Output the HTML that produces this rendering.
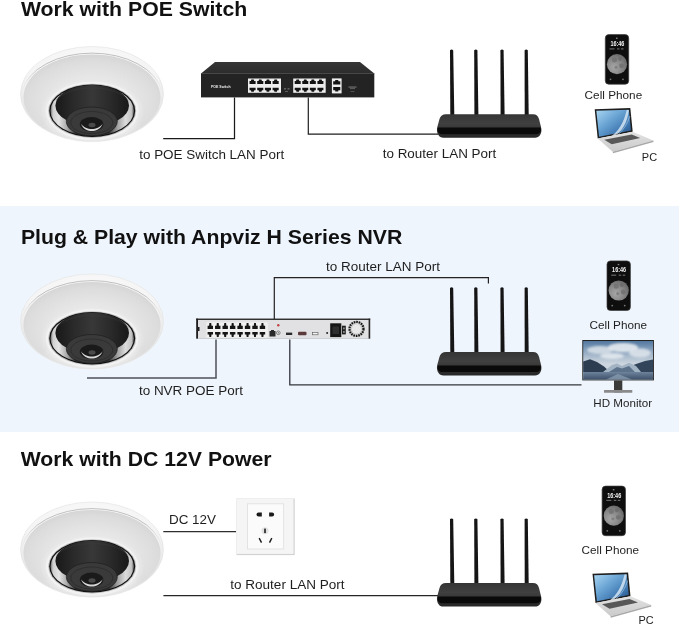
<!DOCTYPE html>
<html><head><meta charset="utf-8">
<style>
html,body{margin:0;padding:0;background:#fff;}
body{width:679px;height:626px;overflow:hidden;position:relative;}
svg{position:absolute;left:0;top:0;will-change:transform;}
text{font-family:"Liberation Sans",sans-serif;}
.t{font-weight:bold;font-size:21px;fill:#111;}
.l{font-size:13.5px;fill:#222;}
.s{font-size:11.5px;fill:#222;}
</style></head><body>
<svg width="679" height="626" viewBox="0 0 679 626">
<defs>
  <filter id="blur1" x="-20%" y="-50%" width="140%" height="200%"><feGaussianBlur stdDeviation="1.2"/></filter>
  <linearGradient id="rimline" x1="0" y1="0" x2="1" y2="0">
    <stop offset="0" stop-color="#a9a9a9" stop-opacity="0"/>
    <stop offset="0.12" stop-color="#a9a9a9" stop-opacity="0.9"/>
    <stop offset="0.88" stop-color="#a9a9a9" stop-opacity="0.9"/>
    <stop offset="1" stop-color="#a9a9a9" stop-opacity="0"/>
  </linearGradient>
  <radialGradient id="lip" cx="0.5" cy="0.3" r="0.75">
    <stop offset="0" stop-color="#fbfbfb"/>
    <stop offset="0.6" stop-color="#f4f4f4"/>
    <stop offset="0.85" stop-color="#e4e4e4"/>
    <stop offset="1" stop-color="#dadada"/>
  </radialGradient>
  <radialGradient id="shell" cx="0.5" cy="0.55" r="0.6">
    <stop offset="0" stop-color="#f0f0f0"/>
    <stop offset="0.5" stop-color="#e6e6e6"/>
    <stop offset="0.8" stop-color="#dcdcdc"/>
    <stop offset="1" stop-color="#d0d0d0"/>
  </radialGradient>
  <radialGradient id="bottomhl" cx="0.5" cy="0.5" r="0.5">
    <stop offset="0" stop-color="#f8f8f8" stop-opacity="0.9"/>
    <stop offset="1" stop-color="#f8f8f8" stop-opacity="0"/>
  </radialGradient>
  <radialGradient id="halo" cx="0.5" cy="0.5" r="0.5">
    <stop offset="0.75" stop-color="#f1f1f1"/>
    <stop offset="1" stop-color="#f1f1f1" stop-opacity="0"/>
  </radialGradient>
  <linearGradient id="chromeL" x1="0" y1="0" x2="0.3" y2="1">
    <stop offset="0" stop-color="#3a3a3a"/>
    <stop offset="0.3" stop-color="#b8b8b8"/>
    <stop offset="0.6" stop-color="#e8e8e8"/>
    <stop offset="1" stop-color="#a8a8a8"/>
  </linearGradient>
  <linearGradient id="chromeR" x1="0" y1="0" x2="-0.3" y2="1">
    <stop offset="0" stop-color="#3a3a3a"/>
    <stop offset="0.3" stop-color="#b0b0b0"/>
    <stop offset="0.6" stop-color="#e2e2e2"/>
    <stop offset="1" stop-color="#a0a0a0"/>
  </linearGradient>
  <linearGradient id="chrome" x1="0" y1="0" x2="1" y2="0">
    <stop offset="0" stop-color="#6a6a6a"/>
    <stop offset="0.03" stop-color="#cfcfcf"/>
    <stop offset="0.1" stop-color="#e4e4e4"/>
    <stop offset="0.2" stop-color="#a8a8a8"/>
    <stop offset="0.3" stop-color="#303030"/>
    <stop offset="0.7" stop-color="#303030"/>
    <stop offset="0.8" stop-color="#a0a0a0"/>
    <stop offset="0.9" stop-color="#dcdcdc"/>
    <stop offset="0.97" stop-color="#c4c4c4"/>
    <stop offset="1" stop-color="#666"/>
  </linearGradient>
  <linearGradient id="wall" x1="0" y1="0" x2="1" y2="0">
    <stop offset="0" stop-color="#181818"/>
    <stop offset="0.25" stop-color="#2a2a2a"/>
    <stop offset="0.5" stop-color="#383838"/>
    <stop offset="0.75" stop-color="#2a2a2a"/>
    <stop offset="1" stop-color="#181818"/>
  </linearGradient>
  <linearGradient id="rtop" x1="0" y1="0" x2="0" y2="1">
    <stop offset="0" stop-color="#353535"/>
    <stop offset="0.4" stop-color="#404040"/>
    <stop offset="1" stop-color="#262626"/>
  </linearGradient>
  <linearGradient id="swtop" x1="0" y1="0" x2="0" y2="1">
    <stop offset="0" stop-color="#363636"/>
    <stop offset="1" stop-color="#2c2c2c"/>
  </linearGradient>
  <linearGradient id="scr" x1="0" y1="0" x2="1" y2="1">
    <stop offset="0" stop-color="#a9d6f2"/>
    <stop offset="0.4" stop-color="#6aa4d4"/>
    <stop offset="0.75" stop-color="#3c74ae"/>
    <stop offset="1" stop-color="#234a7a"/>
  </linearGradient>
  <linearGradient id="lbase" x1="0" y1="0" x2="0" y2="1">
    <stop offset="0" stop-color="#e2e2e2"/>
    <stop offset="1" stop-color="#cacaca"/>
  </linearGradient>
  <linearGradient id="sky" x1="0" y1="0" x2="0" y2="1">
    <stop offset="0" stop-color="#52789f"/>
    <stop offset="0.2" stop-color="#809cba"/>
    <stop offset="0.45" stop-color="#b4c3d2"/>
    <stop offset="0.6" stop-color="#cdd6df"/>
    <stop offset="1" stop-color="#cdd6df"/>
  </linearGradient>
  <linearGradient id="water" x1="0" y1="0" x2="0" y2="1">
    <stop offset="0" stop-color="#6e849c"/>
    <stop offset="1" stop-color="#3e526a"/>
  </linearGradient>
  <radialGradient id="moon" cx="0.35" cy="0.65" r="0.7">
    <stop offset="0" stop-color="#a6a6a6"/>
    <stop offset="0.6" stop-color="#868686"/>
    <stop offset="1" stop-color="#686868"/>
  </radialGradient>
  <g id="cam">
    <ellipse cx="92" cy="94" rx="71.5" ry="47.5" fill="url(#lip)" stroke="#e2e2e2" stroke-width="0.6"/>
    <path d="M22,91 A71,45.5 0 0 1 162,91" stroke="url(#rimline)" stroke-width="0.8" fill="none"/>
    <ellipse cx="92" cy="97.5" rx="68.5" ry="43" fill="url(#shell)"/>
    <ellipse cx="92" cy="128" rx="52" ry="15" fill="url(#bottomhl)"/>
    <ellipse cx="92.2" cy="111.5" rx="52" ry="32" fill="url(#halo)"/>
    <ellipse cx="92.2" cy="111" rx="46.3" ry="29.2" fill="#f2f2f2"/>
    <ellipse cx="92.2" cy="110.8" rx="44" ry="27.1" fill="#bdbdbd"/>
    <ellipse cx="92.2" cy="110.7" rx="43" ry="26.2" fill="#0f0f0f"/>
    <ellipse cx="92.2" cy="110.9" rx="41.7" ry="24.9" fill="url(#chrome)"/>
    <ellipse cx="92.2" cy="105.5" rx="36.8" ry="20.6" fill="url(#wall)"/>
    <path d="M56,100 C67,90 80,88 92.2,88 C104.4,88 117.4,90 128.4,100" stroke="#3c3c3c" stroke-width="0.6" fill="none" opacity="0.7"/>
    <ellipse cx="91.8" cy="121.4" rx="25.5" ry="14.4" fill="#3a3a3a" stroke="#1e1e1e" stroke-width="0.7"/>
    <ellipse cx="91.8" cy="122.5" rx="21" ry="11" fill="none" stroke="#2e2e2e" stroke-width="1"/>
    <ellipse cx="91.6" cy="124.3" rx="11.8" ry="7.2" fill="#1a1a1a"/>
    <path d="M80.8,123.5 C83,129.5 88,131 91.8,131 C95.6,131 100.6,129.5 102.8,123.5 C100,127.5 96,129 91.8,129 C87.6,129 83.6,127.5 80.8,123.5 Z" fill="#d8d8d8"/>
    <ellipse cx="92" cy="125" rx="3.5" ry="2.2" fill="#4a4a4a"/>
  </g>
  <g id="router">
    <path d="M450.00,50.2 Q451.60,48.9 453.20,50.2 L454.30,115 L450.30,115 Z" fill="#151515"/>
    <path d="M474.20,50.2 Q475.80,48.9 477.40,50.2 L478.40,115 L474.40,115 Z" fill="#151515"/>
    <path d="M500.40,50.2 Q502.00,48.9 503.60,50.2 L504.60,115 L500.60,115 Z" fill="#151515"/>
    <path d="M524.60,50.2 Q526.20,48.9 527.80,50.2 L528.70,115 L524.70,115 Z" fill="#151515"/>
    <path d="M446,114.2 L533,114.2 C536.5,114.2 538,116 539,119 L541,127 C542.2,131 541,137.7 535,137.7 L443.5,137.7 C437.5,137.7 436.2,131 437.3,127 L439.5,119 C440.5,116 442.5,114.2 446,114.2 Z" fill="url(#rtop)"/>
    <path d="M438,127.6 L540.5,127.6 C541.8,130.5 540.5,134.3 536,134.3 L442.5,134.3 C438,134.3 436.8,130.5 438,127.6 Z" fill="#0a0a0a"/>
  </g>
  <g id="phone">
    <rect x="0.3" y="0.3" width="23.4" height="49.6" rx="3.5" fill="#0e0e0e" stroke="#3c3c3c" stroke-width="0.7"/>
    <circle cx="12" cy="29.9" r="10.1" fill="url(#moon)"/>
    <circle cx="9.5" cy="25.5" r="2.6" fill="#707070" opacity="0.8"/>
    <circle cx="15" cy="24.5" r="2" fill="#6a6a6a" opacity="0.8"/>
    <circle cx="16.5" cy="31.5" r="2.4" fill="#6e6e6e" opacity="0.8"/>
    <circle cx="11" cy="33" r="1.6" fill="#767676" opacity="0.7"/>
    <text x="5.4" y="11.8" font-size="7" font-weight="bold" fill="#f2f2f2" textLength="14" lengthAdjust="spacingAndGlyphs">16:46</text>
    <rect x="11" y="3.3" width="1.6" height="1.3" fill="#888"/>
    <rect x="4.5" y="14" width="5" height="1.2" fill="#666"/>
    <rect x="12" y="14" width="2.5" height="1.2" fill="#666"/>
    <rect x="16" y="14" width="2.5" height="1.2" fill="#666"/>
    <circle cx="5.5" cy="45" r="0.9" fill="#777"/>
    <circle cx="18" cy="45" r="0.9" fill="#777"/>
  </g>
  <g id="laptop">
    <path d="M0,1.2 L35.6,0 L38,23.8 L3,30.6 Z" fill="#1e1e1e"/>
    <path d="M1.6,2.7 L34.2,1.7 L36.3,22.6 L4.4,28.8 Z" fill="url(#scr)"/>
    <path d="M17,28 C24,22.5 29,15 32,2 L34.2,1.9 C32.5,15 27.5,23 20.5,27.4 Z" fill="#dcebf6" opacity="0.8"/>
    <path d="M23,27 C29,22 33,15 35.2,8" stroke="#bcd6ea" stroke-width="0.7" fill="none" opacity="0.8"/>
    <path d="M3,30.6 L38,23.8 L58.6,32.6 L18,43.8 Z" fill="url(#lbase)"/>
    <path d="M18,43.8 L58.6,32.6 L58.8,34 L18.3,45.2 Z" fill="#a8a8a8"/>
    <path d="M9.5,31.8 L37,26.4 L45.5,30 L17,36.2 Z" fill="#585858"/>
  </g>
</defs>

<!-- blue band -->
<rect x="0" y="206" width="679" height="226" fill="#eff5fd"/>

<!-- ===== Section 1 ===== -->
<use href="#cam"/>
<!-- switch -->
<path d="M215,62 L360,62 L374.3,73.4 L201,73.4 Z" fill="url(#swtop)"/>
<rect x="201" y="73.4" width="173.3" height="24" fill="#232323"/>
<rect x="201" y="73.2" width="173.3" height="0.8" fill="#484848"/>
<rect x="282.5" y="78.5" width="9.5" height="14.4" fill="#252525"/>
<rect x="284" y="88.5" width="2" height="0.8" fill="#999"/>
<rect x="287.5" y="88.5" width="2" height="0.8" fill="#999"/>
<rect x="285" y="91" width="3" height="0.7" fill="#777"/>
<rect x="248" y="78.5" width="33" height="14.3" fill="#eeeeee"/>
<path d="M249.5,81 L250.85,81 L251.35,79.6 L253.75,79.6 L254.25,81 L255.6,81 L255.6,84 L249.5,84 Z" fill="#141414"/>
<path d="M249.5,87.7 L255.6,87.7 L255.6,90.2 L254.25,90.2 L253.75,91.7 L251.35,91.7 L250.85,90.2 L249.5,90.2 Z" fill="#141414"/>
<path d="M257.2,81 L258.55,81 L259.05,79.6 L261.45,79.6 L261.95,81 L263.3,81 L263.3,84 L257.2,84 Z" fill="#141414"/>
<path d="M257.2,87.7 L263.3,87.7 L263.3,90.2 L261.95,90.2 L261.45,91.7 L259.05,91.7 L258.55,90.2 L257.2,90.2 Z" fill="#141414"/>
<path d="M264.9,81 L266.25,81 L266.75,79.6 L269.15,79.6 L269.65,81 L271,81 L271,84 L264.9,84 Z" fill="#141414"/>
<path d="M264.9,87.7 L271,87.7 L271,90.2 L269.65,90.2 L269.15,91.7 L266.75,91.7 L266.25,90.2 L264.9,90.2 Z" fill="#141414"/>
<path d="M272.6,81 L273.95,81 L274.45,79.6 L276.85,79.6 L277.35,81 L278.7,81 L278.7,84 L272.6,84 Z" fill="#141414"/>
<path d="M272.6,87.7 L278.7,87.7 L278.7,90.2 L277.35,90.2 L276.85,91.7 L274.45,91.7 L273.95,90.2 L272.6,90.2 Z" fill="#141414"/>
<rect x="293.2" y="78.5" width="32.5" height="14.3" fill="#eeeeee"/>
<path d="M294.7,81 L295.99,81 L296.49,79.6 L298.89,79.6 L299.39,81 L300.68,81 L300.68,84 L294.7,84 Z" fill="#141414"/>
<path d="M294.7,87.7 L300.68,87.7 L300.68,90.2 L299.39,90.2 L298.89,91.7 L296.49,91.7 L295.99,90.2 L294.7,90.2 Z" fill="#141414"/>
<path d="M302.27,81 L303.56,81 L304.06,79.6 L306.46,79.6 L306.96,81 L308.25,81 L308.25,84 L302.27,84 Z" fill="#141414"/>
<path d="M302.27,87.7 L308.25,87.7 L308.25,90.2 L306.96,90.2 L306.46,91.7 L304.06,91.7 L303.56,90.2 L302.27,90.2 Z" fill="#141414"/>
<path d="M309.85,81 L311.14,81 L311.64,79.6 L314.04,79.6 L314.54,81 L315.82,81 L315.82,84 L309.85,84 Z" fill="#141414"/>
<path d="M309.85,87.7 L315.82,87.7 L315.82,90.2 L314.54,90.2 L314.04,91.7 L311.64,91.7 L311.14,90.2 L309.85,90.2 Z" fill="#141414"/>
<path d="M317.43,81 L318.71,81 L319.21,79.6 L321.61,79.6 L322.11,81 L323.4,81 L323.4,84 L317.43,84 Z" fill="#141414"/>
<path d="M317.43,87.7 L323.4,87.7 L323.4,90.2 L322.11,90.2 L321.61,91.7 L319.21,91.7 L318.71,90.2 L317.43,90.2 Z" fill="#141414"/>
<rect x="331.9" y="78.4" width="9.7" height="15" fill="#eeeeee"/>
<path d="M333.2,81.2 h2 v-1.2 h3.1 v1.2 h2 v3.2 h-7.1 z" fill="#141414"/>
<path d="M333.2,87 h7.1 v3.2 h-2 v1.2 h-3.1 v-1.2 h-2 z" fill="#141414"/>
<rect x="348.5" y="86.6" width="8" height="0.9" fill="#888"/>
<rect x="350" y="88.2" width="5" height="0.9" fill="#666"/>
<rect x="350.5" y="91.3" width="4" height="0.7" fill="#666"/>
<text x="211" y="87.6" font-size="4.4" font-weight="bold" fill="#ececec" textLength="19.6" lengthAdjust="spacingAndGlyphs">POE Switch</text>
<!-- lines -->
<path d="M163.2,138.5 H234.5 V97.4" stroke="#1a1a1a" stroke-width="1.25" fill="none"/>
<path d="M308.3,97.4 V134.1 H438" stroke="#1e1e1e" stroke-width="1.2" fill="none"/>
<use href="#router"/>
<use href="#phone" x="605" y="34.3"/>
<use href="#laptop" x="594.7" y="108"/>

<!-- ===== Section 2 ===== -->
<use href="#cam" y="227.5"/>
<!-- NVR -->
<rect x="196.2" y="318.6" width="174" height="20" fill="#e1e1e4"/>
<rect x="196.2" y="338" width="174" height="1" fill="#cfcfd3"/>
<rect x="196.2" y="318.6" width="174" height="1.3" fill="#1e1e1e"/>
<rect x="196.2" y="318.6" width="1.8" height="20" fill="#1e1e1e"/>
<rect x="198" y="327" width="1.5" height="4" fill="#1e1e1e"/>
<rect x="368.6" y="318.6" width="1.6" height="20" fill="#262626"/>
<rect x="206.3" y="322.3" width="61.5" height="15.4" fill="#f0f0f0"/>
<path d="M207.6,325.7 L209.1,325.7 L209.4,323.1 L211.2,323.1 L211.5,325.7 L213,325.7 L213,329 L207.6,329 Z" fill="#151515"/>
<path d="M207.6,332 L213,332 L213,334.6 L211.5,334.6 L211.2,337 L209.4,337 L209.1,334.6 L207.6,334.6 Z" fill="#151515"/>
<path d="M215.05,325.7 L216.55,325.7 L216.85,323.1 L218.65,323.1 L218.95,325.7 L220.45,325.7 L220.45,329 L215.05,329 Z" fill="#151515"/>
<path d="M215.05,332 L220.45,332 L220.45,334.6 L218.95,334.6 L218.65,337 L216.85,337 L216.55,334.6 L215.05,334.6 Z" fill="#151515"/>
<path d="M222.5,325.7 L224,325.7 L224.3,323.1 L226.1,323.1 L226.4,325.7 L227.9,325.7 L227.9,329 L222.5,329 Z" fill="#151515"/>
<path d="M222.5,332 L227.9,332 L227.9,334.6 L226.4,334.6 L226.1,337 L224.3,337 L224,334.6 L222.5,334.6 Z" fill="#151515"/>
<path d="M229.95,325.7 L231.45,325.7 L231.75,323.1 L233.55,323.1 L233.85,325.7 L235.35,325.7 L235.35,329 L229.95,329 Z" fill="#151515"/>
<path d="M229.95,332 L235.35,332 L235.35,334.6 L233.85,334.6 L233.55,337 L231.75,337 L231.45,334.6 L229.95,334.6 Z" fill="#151515"/>
<path d="M237.4,325.7 L238.9,325.7 L239.2,323.1 L241,323.1 L241.3,325.7 L242.8,325.7 L242.8,329 L237.4,329 Z" fill="#151515"/>
<path d="M237.4,332 L242.8,332 L242.8,334.6 L241.3,334.6 L241,337 L239.2,337 L238.9,334.6 L237.4,334.6 Z" fill="#151515"/>
<path d="M244.85,325.7 L246.35,325.7 L246.65,323.1 L248.45,323.1 L248.75,325.7 L250.25,325.7 L250.25,329 L244.85,329 Z" fill="#151515"/>
<path d="M244.85,332 L250.25,332 L250.25,334.6 L248.75,334.6 L248.45,337 L246.65,337 L246.35,334.6 L244.85,334.6 Z" fill="#151515"/>
<path d="M252.3,325.7 L253.8,325.7 L254.1,323.1 L255.9,323.1 L256.2,325.7 L257.7,325.7 L257.7,329 L252.3,329 Z" fill="#151515"/>
<path d="M252.3,332 L257.7,332 L257.7,334.6 L256.2,334.6 L255.9,337 L254.1,337 L253.8,334.6 L252.3,334.6 Z" fill="#151515"/>
<path d="M259.75,325.7 L261.25,325.7 L261.55,323.1 L263.35,323.1 L263.65,325.7 L265.15,325.7 L265.15,329 L259.75,329 Z" fill="#151515"/>
<path d="M259.75,332 L265.15,332 L265.15,334.6 L263.65,334.6 L263.35,337 L261.55,337 L261.25,334.6 L259.75,334.6 Z" fill="#151515"/>
<path d="M269.5,331 h1.5 v-1 h3 v1 h1.5 v5.4 h-6 z" fill="#2a2a2a"/>
<circle cx="278.3" cy="325.2" r="1.2" fill="#c04040"/>
<circle cx="278.3" cy="332.8" r="1.8" fill="#f4f4f4" stroke="#555" stroke-width="0.7"/>
<circle cx="278.3" cy="332.8" r="0.6" fill="#333"/>
<rect x="286" y="332.6" width="6.2" height="2.4" fill="#2a2a2a"/>
<rect x="298" y="331.8" width="8.5" height="3.4" rx="1" fill="#5a3a3a"/>
<rect x="312.6" y="332.4" width="5.4" height="2.4" fill="#f4f4f4" stroke="#555" stroke-width="0.6"/>
<circle cx="327.1" cy="333.1" r="1" fill="#222"/>
<rect x="330.2" y="323.3" width="11.1" height="13.8" fill="#161616"/>
<rect x="332.5" y="326.5" width="6.5" height="7.5" fill="#2e2e2e"/>
<rect x="342" y="325.7" width="3.8" height="8.7" fill="#1e1e1e"/>
<rect x="343" y="327.5" width="1.8" height="1.8" fill="#888"/>
<rect x="343" y="331" width="1.8" height="1.8" fill="#888"/>
<circle cx="356.5" cy="328.9" r="8.2" fill="#cfcfcf"/>
<circle cx="356.5" cy="328.9" r="7" fill="none" stroke="#151515" stroke-width="2.2" stroke-dasharray="1.6 0.9"/>
<circle cx="356.5" cy="328.9" r="4.6" fill="#e8e8e8"/>
<path d="M274.3,319 V277.7 H488.4 V283.5" stroke="#222" stroke-width="1.2" fill="none"/>
<path d="M87,377.9 H216 V339.5" stroke="#4e525a" stroke-width="1.5" fill="none"/>
<path d="M289.8,339.5 V384.9 H581.5" stroke="#33363c" stroke-width="1.3" fill="none"/>
<use href="#router" y="237.8"/>
<use href="#phone" x="606.7" y="260.6"/>
<!-- monitor -->
<rect x="582.3" y="340" width="71.6" height="40.4" fill="#222"/>
<rect x="583.2" y="341" width="69.8" height="38.5" fill="url(#sky)"/>
<g filter="url(#blur1)">
<ellipse cx="600" cy="350" rx="13" ry="4" fill="#d4dde6" opacity="0.9"/>
<ellipse cx="623" cy="347.5" rx="15" ry="4.5" fill="#e6ebf0" opacity="0.9"/>
<ellipse cx="640" cy="353" rx="11" ry="4.5" fill="#dfe5ec" opacity="0.85"/>
<ellipse cx="612" cy="356" rx="12" ry="3" fill="#e8edf2" opacity="0.8"/>
</g>
<path d="M583.2,361.5 L590,359.3 L597,362 L604,366.5 L610,372 L583.2,372 Z" fill="#2c3d52"/>
<path d="M626,368 L636,364 L645,361 L653,359.5 L653,372 L622,372 Z" fill="#31445a"/>
<path d="M603,372 L612,365 L617,363.5 L622,366 L629,362.8 L636,366 L641,372 Z" fill="#a2b3c4"/>
<path d="M609,372 L617,367 L622,368.5 L629,366 L635,372 Z" fill="#5c718a"/>
<rect x="583.2" y="372" width="69.8" height="7.5" fill="url(#water)"/>
<path d="M606,379.5 L618,374 L632,379.5 Z" fill="#8ea2b6" opacity="0.7"/>
<rect x="614" y="380.4" width="8.3" height="12" fill="#3a3a3a"/>
<rect x="604" y="390" width="28.3" height="2.8" rx="0.5" fill="#8a8a8a"/>

<!-- ===== Section 3 ===== -->
<use href="#cam" y="455.5"/>
<!-- outlet -->
<rect x="236.5" y="498.5" width="58.2" height="56.6" fill="#d2d2d2"/>
<rect x="236.5" y="498.5" width="57" height="55.4" fill="#f5f5f5"/>
<rect x="247.4" y="503.8" width="36.3" height="45.2" fill="#fbfbfb" stroke="#dedede" stroke-width="0.8"/>
<path d="M261.8,512.5 v4 h-3.3 a2,2 0 0 1 0,-4 z" fill="#1a1a1a"/>
<path d="M269.1,512.5 v4 h3 a2,2 0 0 0 0,-4 z" fill="#1a1a1a"/>
<circle cx="265" cy="530.8" r="3.5" fill="#e2e2e2"/>
<rect x="264.25" y="528.6" width="1.5" height="4.5" fill="#111"/>
<path d="M259.2,538.1 L261.5,542.6" stroke="#1a1a1a" stroke-width="1.4"/>
<path d="M271.8,538.1 L269.5,542.6" stroke="#1a1a1a" stroke-width="1.4"/>
<path d="M163.3,531.6 H236" stroke="#2e2e2e" stroke-width="1.15" fill="none"/>
<path d="M163.4,595.6 H438" stroke="#262626" stroke-width="1.2" fill="none"/>
<use href="#router" y="468.9"/>
<use href="#phone" x="601.8" y="485.8"/>
<use href="#laptop" x="592.5" y="572.5"/>
<text transform="translate(20.9,15.9) scale(1.0374,1)" font-size="20.5" font-weight="bold" fill="#111">Work with POE Switch</text>
<text transform="translate(20.9,243.9) scale(1.0359,1)" font-size="20.5" font-weight="bold" fill="#111">Plug &amp; Play with Anpviz H Series NVR</text>
<text transform="translate(20.7,465.6) scale(1.0367,1)" font-size="20.5" font-weight="bold" fill="#111">Work with DC 12V Power</text>
<text transform="translate(139.2,158.6) scale(1.0354,1)" font-size="13.0" fill="#1e1e1e">to POE Switch LAN Port</text>
<text transform="translate(382.7,158.4) scale(1.0341,1)" font-size="13.0" fill="#1e1e1e">to Router LAN Port</text>
<text transform="translate(584.6,98.9) scale(1.0517,1)" font-size="11.2" fill="#1e1e1e">Cell Phone</text>
<text transform="translate(641.8,161.4) scale(0.9828,1)" font-size="11.2" fill="#1e1e1e">PC</text>
<text transform="translate(326,270.8) scale(1.0387,1)" font-size="13.0" fill="#1e1e1e">to Router LAN Port</text>
<text transform="translate(138.9,395) scale(1.0376,1)" font-size="13.0" fill="#1e1e1e">to NVR POE Port</text>
<text transform="translate(589.6,329.3) scale(1.0499,1)" font-size="11.2" fill="#1e1e1e">Cell Phone</text>
<text transform="translate(593.3,406.9) scale(1.0386,1)" font-size="11.2" fill="#1e1e1e">HD Monitor</text>
<text transform="translate(169,523.6) scale(1.0330,1)" font-size="13.0" fill="#1e1e1e">DC 12V</text>
<text transform="translate(230.2,589.2) scale(1.0432,1)" font-size="13.0" fill="#1e1e1e">to Router LAN Port</text>
<text transform="translate(581.6,553.5) scale(1.0499,1)" font-size="11.2" fill="#1e1e1e">Cell Phone</text>
<text transform="translate(638.4,624) scale(0.9764,1)" font-size="11.2" fill="#1e1e1e">PC</text>
</svg>
</body></html>
